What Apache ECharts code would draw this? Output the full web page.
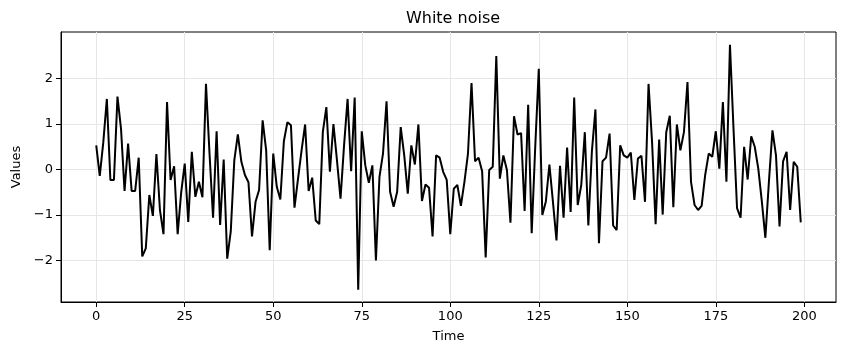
<!DOCTYPE html>
<html>
<head>
<meta charset="utf-8">
<script src="https://cdn.jsdelivr.net/npm/echarts@6/dist/echarts.min.js"></script>
<style>
  html, body { margin: 0; padding: 0; background: #fff; }
  #chart { width: 844px; height: 355px; }
</style>
</head>
<body>
<div id="chart"></div>
<script>
// values, one per time step 0..199
var noiseValues = [
    0.53, -0.14, 0.6, 1.55, -0.23, -0.23, 1.6, 0.9, -0.47, 0.57,
    -0.47, -0.47, 0.26, -1.91, -1.73, -0.56, -1.02, 0.34, -0.89, -1.42,
    1.48, -0.23, 0.07, -1.42, -0.5, 0.13, -1.15, 0.39, -0.6, -0.27,
    -0.61, 1.88, 0.35, -1.06, 0.84, -1.22, 0.22, -1.96, -1.36, 0.2,
    0.77, 0.17, -0.12, -0.28, -1.47, -0.71, -0.45, 1.08, 0.42, -1.77,
    0.35, -0.38, -0.66, 0.62, 1.04, 0.97, -0.84, -0.2, 0.42, 0.99,
    -0.47, -0.18, -1.12, -1.2, 0.82, 1.37, -0.05, 1.0, 0.2, -0.64,
    0.53, 1.55, -0.04, 1.58, -2.64, 0.84, 0.09, -0.29, 0.09, -2.0,
    -0.16, 0.35, 1.5, -0.49, -0.82, -0.49, 0.93, 0.31, -0.53, 0.53,
    0.11, 0.99, -0.69, -0.33, -0.4, -1.47, 0.31, 0.26, -0.05, -0.23,
    -1.42, -0.42, -0.34, -0.8, -0.27, 0.35, 1.9, 0.18, 0.26, -0.04,
    -1.93, -0.01, 0.06, 2.49, -0.2, 0.31, -0.01, -1.17, 1.17, 0.77,
    0.8, -0.91, 1.42, -1.4, 0.5, 2.21, -1.0, -0.7, 0.11, -0.71,
    -1.56, 0.08, -1.06, 0.48, -0.93, 1.58, -0.78, -0.34, 0.82, -1.23,
    0.4, 1.32, -1.62, 0.18, 0.26, 0.79, -1.23, -1.33, 0.53, 0.31,
    0.26, 0.37, -0.67, 0.24, 0.3, -0.71, 1.88, 0.6, -1.2, 0.66,
    -0.99, 0.82, 1.18, -0.83, 0.99, 0.42, 0.82, 1.92, -0.27, -0.78,
    -0.89, -0.8, -0.12, 0.35, 0.28, 0.84, 0.02, 1.48, -0.27, 2.74,
    0.9, -0.85, -1.06, 0.5, -0.22, 0.73, 0.5, 0.02, -0.7, -1.5,
    -0.27, 0.86, 0.31, -1.25, 0.18, 0.39, -0.89, 0.17, 0.06, -1.16
];
var xTicks = [0, 25, 50, 75, 100, 125, 150, 175, 200];
var yTicks = [-2, -1, 0, 1, 2];

var seriesData = noiseValues.map(function (v, i) { return [i, v]; });
var font = 'DejaVu Sans';
var minusFmt = function (v) { return String(v).replace('-', '\u2212'); };

var chart = echarts.init(document.getElementById('chart'));
chart.setOption({
    animation: false,
    backgroundColor: '#fff',
    title: {
        text: 'White noise',
        left: 448,
        textAlign: 'center',
        top: 6,
        textStyle: { fontFamily: font, fontSize: 16, fontWeight: 'normal', color: '#000' }
    },
    grid: {
        left: 61, right: 8, top: 32, bottom: 53,
        show: true, borderColor: '#000', borderWidth: 1
    },
    xAxis: {
        type: 'value',
        min: -9.95,
        max: 208.95,
        name: 'Time',
        nameLocation: 'middle',
        nameGap: 28,
        nameTextStyle: { fontFamily: font, fontSize: 13, color: '#000' },
        axisLine: { show: true, onZero: false, lineStyle: { color: '#000', width: 1 } },
        axisTick: { show: true, length: 5, customValues: xTicks, lineStyle: { color: '#000' } },
        axisLabel: { customValues: xTicks, fontFamily: font, fontSize: 13, color: '#000', margin: 8 },
        splitLine: { show: true, lineStyle: { color: '#e6e6e6', width: 1 } }
    },
    yAxis: {
        type: 'value',
        min: -2.91,
        max: 3.02,
        name: 'Values',
        nameLocation: 'middle',
        nameRotate: 90,
        nameGap: 38,
        nameTextStyle: { fontFamily: font, fontSize: 13, color: '#000' },
        axisLine: { show: true, onZero: false, lineStyle: { color: '#000', width: 1 } },
        axisTick: { show: true, length: 5, customValues: yTicks, lineStyle: { color: '#000' } },
        axisLabel: { customValues: yTicks, fontFamily: font, fontSize: 13, color: '#000', margin: 8, formatter: minusFmt },
        splitLine: { show: true, lineStyle: { color: '#e6e6e6', width: 1 } }
    },
    series: [{
        type: 'line',
        data: seriesData,
        showSymbol: false,
        lineStyle: { color: '#000', width: 2 },
        itemStyle: { color: '#000' }
    }]
});
</script>
</body>
</html>
